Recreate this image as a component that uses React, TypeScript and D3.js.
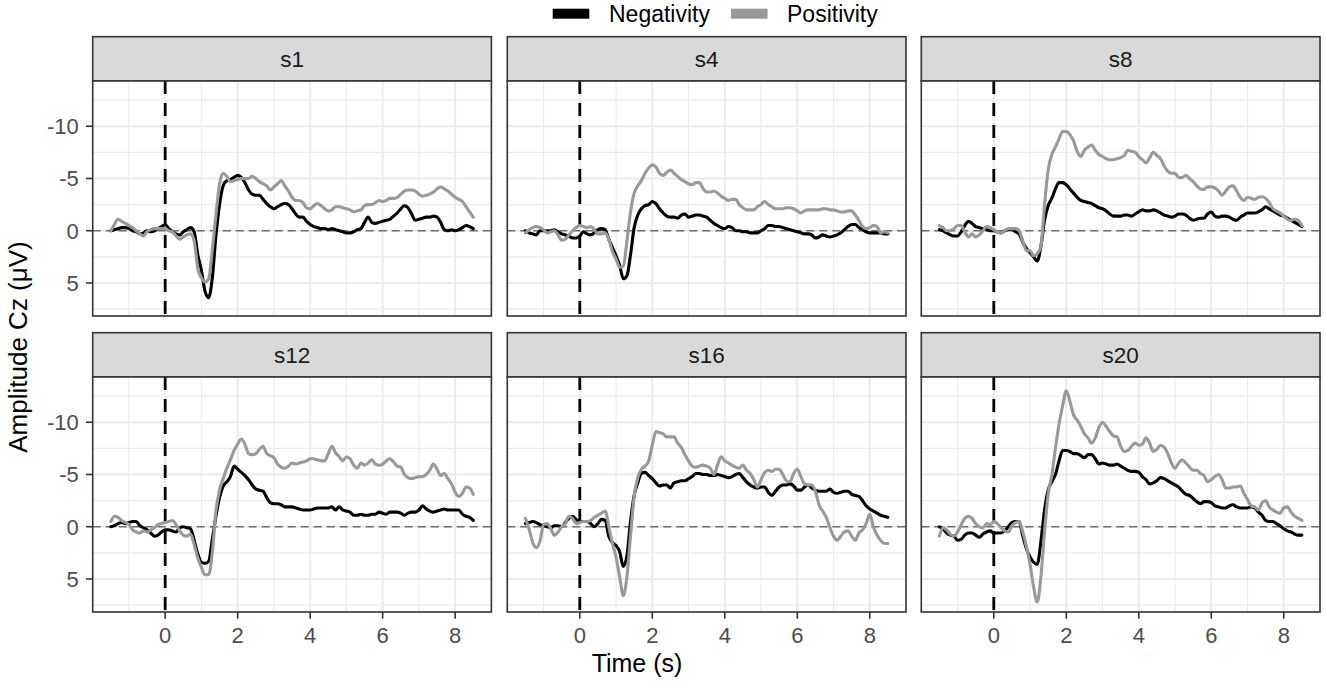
import React from "react";
import * as d3 from "d3";

// ---------- DATA ----------
const panels = ["s1", "s4", "s8", "s12", "s16", "s20"];
const seriesNames = ["Negativity", "Positivity"];
const timeStart = -1.5;
const timeStep = 0.1;
const xTicks = [0, 2, 4, 6, 8];
const xMinor = [-1, 1, 3, 5, 7];
const yTicks = [-10, -5, 0, 5];
const yMinor = [-12.5, -7.5, -2.5, 2.5, 7.5];

const s1Neg = [0.0,-0.1,-0.2,-0.3,-0.3,-0.2,0.0,0.1,0.3,0.2,0.0,0.1,0.0,-0.2,-0.4,-0.6,-0.2,0.1,0.3,0.4,0.1,-0.1,-0.3,0.1,2.3,3.8,5.8,6.4,4.5,0.5,-2.5,-4.3,-4.8,-4.9,-5.1,-5.3,-5.1,-4.6,-3.9,-3.5,-3.4,-3.4,-3.0,-2.6,-2.3,-2.1,-2.3,-2.5,-2.6,-2.5,-2.1,-1.6,-1.3,-1.3,-0.9,-0.6,-0.4,-0.3,-0.2,-0.2,-0.1,-0.2,-0.1,0.0,0.1,0.2,0.2,0.1,-0.1,-0.2,-0.8,-1.3,-0.8,-0.7,-0.8,-0.9,-1.0,-1.1,-1.4,-1.7,-2.1,-2.4,-2.2,-1.6,-1.0,-1.1,-1.2,-1.3,-1.3,-1.4,-1.3,-0.8,-0.1,0.0,-0.1,0.0,-0.1,-0.3,-0.5,-0.4,-0.2];
const s1Pos = [0.0,-0.6,-1.1,-0.9,-0.7,-0.5,-0.3,0.0,0.3,0.5,0.1,-0.1,-0.2,-0.2,-0.2,-0.2,0.0,0.1,0.5,0.8,0.6,0.4,0.3,1.0,3.6,4.5,4.9,4.6,1.8,-1.5,-4.5,-5.5,-5.2,-4.7,-4.8,-4.9,-5.0,-5.0,-5.0,-5.2,-5.0,-4.7,-4.5,-4.3,-3.9,-4.2,-4.5,-4.8,-4.3,-3.8,-3.2,-2.9,-2.9,-2.7,-2.2,-2.1,-2.4,-2.6,-2.4,-2.1,-1.9,-2.0,-2.3,-2.3,-2.2,-2.1,-2.0,-1.8,-1.9,-2.0,-2.4,-2.5,-2.5,-2.7,-2.9,-2.8,-2.9,-3.1,-3.1,-3.2,-3.5,-3.8,-3.9,-3.9,-3.8,-3.5,-3.3,-3.4,-3.5,-3.7,-4.0,-4.2,-4.0,-3.8,-3.5,-3.2,-3.0,-2.8,-2.3,-1.8,-1.3];
const s4Neg = [0.0,0.2,0.3,0.4,0.0,0.0,0.0,0.0,-0.1,0.1,0.3,0.4,0.5,0.7,0.7,0.5,0.1,0.3,0.4,0.2,-0.1,-0.2,-0.1,0.8,1.6,2.4,3.3,4.6,4.3,2.3,-0.3,-1.5,-2.1,-2.4,-2.5,-2.8,-2.6,-2.1,-1.7,-1.4,-1.3,-1.3,-1.2,-1.5,-1.6,-1.3,-1.4,-1.5,-1.5,-1.4,-1.3,-1.0,-0.7,-0.5,-0.3,-0.2,-0.4,-0.3,0.0,0.0,0.1,0.1,0.2,0.2,0.2,0.0,-0.2,-0.5,-0.5,-0.4,-0.4,-0.3,-0.2,-0.1,0.0,0.1,0.2,0.3,0.3,0.4,0.7,0.6,0.4,0.5,0.6,0.5,0.4,0.2,-0.1,-0.4,-0.6,-0.6,-0.3,-0.1,0.1,0.2,0.2,0.2,0.2,0.3,0.3];
const s4Pos = [0.2,-0.1,-0.3,-0.4,-0.3,-0.1,0.2,0.1,0.0,0.4,0.9,0.8,0.4,0.0,-0.3,-0.5,-0.4,-0.3,-0.4,-0.1,0.3,0.3,0.2,0.8,2.0,2.7,3.5,3.4,1.0,-1.8,-3.6,-4.3,-4.8,-5.5,-6.0,-6.3,-6.1,-5.5,-5.3,-5.6,-5.8,-5.5,-5.2,-4.9,-4.7,-4.5,-4.4,-4.6,-4.6,-4.05,-3.7,-3.7,-3.8,-3.6,-3.3,-3.1,-2.9,-3.0,-3.0,-2.5,-2.2,-2.0,-2.0,-2.0,-2.3,-2.5,-2.8,-2.5,-2.3,-2.1,-2.1,-2.1,-2.2,-2.2,-2.1,-1.9,-1.7,-1.9,-2.0,-2.0,-2.0,-2.0,-2.1,-2.1,-2.0,-2.0,-1.9,-1.8,-1.8,-1.9,-1.9,-1.5,-1.0,-0.4,-0.2,-0.3,-0.5,-0.4,0.2,0.1,0.2];
const s8Neg = [-0.1,0.0,0.2,0.4,0.5,0.5,0.1,-0.5,-0.9,-0.7,-0.4,-0.3,-0.2,-0.1,0.0,0.0,0.1,0.2,0.0,-0.1,-0.1,0.1,0.3,1.1,1.7,2.1,2.5,2.9,1.5,-1.0,-2.4,-3.1,-4.0,-4.6,-4.6,-4.4,-4.0,-3.6,-3.2,-2.9,-2.8,-2.7,-2.6,-2.4,-2.2,-2.1,-1.9,-1.6,-1.4,-1.4,-1.4,-1.5,-1.5,-1.4,-1.6,-1.8,-2.0,-1.9,-1.9,-2.0,-1.9,-1.7,-1.5,-1.4,-1.3,-1.4,-1.6,-1.6,-1.5,-1.2,-1.0,-1.1,-1.2,-1.2,-1.6,-1.8,-1.4,-1.3,-1.4,-1.4,-1.3,-1.1,-1.0,-1.3,-1.5,-1.7,-1.7,-1.7,-1.8,-2.0,-2.3,-2.1,-1.9,-1.7,-1.5,-1.4,-1.2,-1.0,-0.8,-0.6,-0.4];
const s8Pos = [-0.5,-0.3,0.0,0.0,-0.2,-0.5,-0.5,0.1,0.6,0.3,0.6,0.4,0.0,-0.4,-0.3,-0.1,0.1,0.2,0.0,-0.2,-0.2,-0.2,0.0,1.0,1.9,1.9,2.4,2.2,1.5,-2.5,-5.8,-7.3,-8.0,-8.8,-9.5,-9.5,-9.2,-8.6,-7.6,-7.1,-7.7,-8.0,-8.2,-7.7,-7.3,-7.1,-6.9,-6.8,-6.8,-6.9,-7.0,-7.2,-7.7,-7.6,-7.5,-7.1,-6.8,-6.5,-7.0,-7.5,-7.2,-6.9,-6.2,-5.7,-5.5,-5.5,-5.1,-5.1,-5.3,-5.0,-4.7,-4.3,-4.0,-3.95,-4.2,-4.2,-4.1,-3.8,-3.4,-3.8,-4.2,-4.3,-3.8,-3.2,-2.9,-3.2,-3.1,-3.0,-3.2,-3.25,-3.1,-2.7,-2.1,-1.9,-1.7,-1.4,-1.1,-1.0,-1.1,-1.0,-0.5];
const s12Neg = [0.0,-0.1,-0.3,-0.4,-0.3,-0.4,-0.5,-0.5,-0.1,0.1,0.3,0.6,0.9,0.8,0.5,0.3,0.3,0.4,0.5,0.1,0.0,0.1,0.2,1.3,2.6,3.4,3.5,3.3,1.2,-1.0,-2.8,-3.9,-4.3,-4.8,-5.8,-5.5,-5.2,-4.9,-4.5,-4.0,-3.6,-3.5,-3.4,-2.8,-2.3,-2.2,-2.2,-2.1,-1.9,-1.9,-1.9,-1.8,-1.7,-1.6,-1.6,-1.6,-1.7,-1.8,-1.8,-1.8,-1.8,-1.9,-1.6,-1.9,-1.6,-1.5,-1.4,-1.1,-1.1,-1.2,-1.1,-1.1,-1.2,-1.2,-1.4,-1.3,-1.2,-1.4,-1.4,-1.4,-1.3,-1.1,-1.3,-1.4,-1.4,-1.6,-2.0,-1.7,-1.5,-1.4,-1.5,-1.6,-1.7,-1.6,-1.6,-1.6,-1.6,-1.2,-1.0,-0.9,-0.6];
const s12Pos = [-0.5,-1.0,-0.9,-0.6,-0.4,-0.2,0.3,0.5,0.6,0.4,0.5,0.3,0.1,-0.2,-0.3,-0.4,-0.5,-0.6,-0.2,0.4,0.8,0.9,0.7,1.7,3.0,3.9,4.6,4.6,2.5,-1.5,-3.5,-4.6,-5.6,-6.4,-7.3,-7.9,-8.4,-7.9,-7.0,-6.9,-7.0,-7.4,-7.7,-7.0,-6.8,-6.6,-6.0,-5.7,-5.6,-5.8,-6.1,-6.0,-6.1,-6.2,-6.3,-6.5,-6.5,-6.4,-6.3,-6.3,-7.0,-7.7,-7.1,-6.7,-6.3,-6.7,-6.5,-5.9,-5.6,-6.1,-5.9,-6.1,-6.4,-6.0,-5.9,-6.0,-6.3,-6.5,-6.2,-5.8,-5.7,-5.0,-4.7,-4.6,-4.7,-4.8,-4.8,-5.0,-5.4,-6.0,-5.5,-4.9,-5.1,-4.6,-4.1,-3.3,-2.9,-3.2,-3.8,-3.7,-3.1];
const s16Neg = [-0.3,-0.4,-0.5,-0.4,-0.2,-0.1,0.0,0.1,-0.1,-0.1,0.0,-0.4,-0.8,-1.0,-0.7,-0.5,-0.5,-0.5,-0.3,0.0,-0.3,-0.7,-0.6,0.9,1.5,1.8,2.4,3.8,2.8,-0.5,-3.0,-4.2,-5.1,-5.2,-4.9,-4.6,-4.2,-3.9,-4.0,-4.0,-3.7,-4.2,-4.3,-4.4,-4.4,-4.6,-4.8,-5.1,-5.1,-5.0,-5.0,-4.9,-4.9,-5.0,-4.9,-4.8,-4.7,-4.8,-5.0,-5.1,-4.7,-4.3,-4.0,-3.8,-3.7,-3.8,-3.8,-3.3,-3.0,-3.4,-3.8,-4.0,-4.0,-4.1,-3.9,-3.5,-3.5,-3.8,-4.0,-3.7,-3.5,-3.4,-3.4,-3.4,-3.6,-3.3,-3.2,-3.3,-3.4,-3.4,-3.1,-3.0,-2.9,-2.5,-2.0,-1.7,-1.5,-1.3,-1.1,-1.0,-0.9];
const s16Pos = [-0.8,0.2,1.5,2.0,1.4,-0.2,-0.3,0.2,0.8,0.5,0.0,-0.3,-1.0,-0.8,-0.3,-0.4,-0.5,-0.5,-0.6,-0.9,-1.1,-1.3,-1.5,0.0,1.6,2.9,4.8,6.6,4.8,0.9,-2.9,-4.7,-5.5,-5.8,-6.3,-7.8,-9.1,-9.0,-8.9,-8.6,-8.6,-8.6,-8.0,-7.6,-6.9,-6.3,-5.8,-5.7,-5.8,-5.9,-5.8,-5.6,-5.0,-5.9,-6.7,-6.3,-6.1,-5.9,-5.7,-5.6,-5.9,-5.4,-5.1,-4.5,-3.8,-4.5,-5.2,-5.4,-5.3,-5.5,-5.5,-5.0,-4.4,-4.3,-5.1,-5.5,-4.8,-4.1,-4.0,-4.0,-3.4,-2.1,-1.5,-0.9,0.1,0.9,1.3,0.9,0.5,0.4,0.9,1.3,0.6,0.3,-0.3,-1.2,0.0,0.8,1.3,1.6,1.6];
const s20Neg = [0.0,0.2,0.6,0.8,0.9,1.3,1.2,0.8,0.6,0.6,0.8,1.0,0.7,0.5,0.4,0.6,0.6,0.6,0.4,0.0,-0.4,-0.5,-0.5,0.9,2.1,2.9,3.4,3.6,1.4,-1.6,-3.5,-4.3,-5.0,-6.3,-7.3,-7.3,-7.2,-7.0,-7.0,-6.8,-6.6,-6.9,-6.9,-6.5,-6.0,-6.1,-6.0,-5.9,-5.9,-6.0,-5.8,-5.6,-5.4,-5.3,-5.3,-5.2,-4.8,-4.5,-4.1,-4.2,-4.4,-4.7,-4.6,-4.4,-4.2,-4.0,-3.8,-3.4,-3.1,-3.0,-2.7,-2.4,-2.2,-2.4,-2.4,-2.3,-2.0,-1.9,-1.8,-1.8,-2.0,-2.1,-1.9,-1.8,-1.8,-1.8,-1.9,-1.8,-1.4,-1.1,-0.6,-0.5,-0.5,-0.3,-0.1,0.2,0.4,0.5,0.7,0.8,0.8];
const s20Pos = [0.9,0.1,0.3,0.7,0.9,0.5,-0.2,-0.8,-1.0,-0.8,-0.3,0.0,0.1,-0.3,-0.2,-0.5,-0.3,0.1,0.4,0.5,-0.1,-0.4,-0.5,0.5,1.9,3.6,5.8,7.2,4.8,0.5,-3.1,-4.9,-7.5,-9.8,-11.6,-13.0,-12.0,-10.7,-10.2,-9.6,-8.9,-8.5,-8.0,-8.5,-9.5,-10.0,-9.6,-9.1,-8.7,-8.6,-7.7,-7.2,-7.3,-7.7,-8.0,-7.8,-7.9,-8.5,-8.0,-7.2,-7.4,-7.8,-7.6,-7.0,-6.1,-5.6,-6.1,-6.4,-6.1,-5.7,-5.4,-5.4,-5.1,-4.9,-4.3,-4.5,-4.8,-5.0,-4.5,-3.7,-3.7,-3.8,-3.8,-3.9,-3.2,-2.6,-2.0,-1.9,-1.6,-2.3,-2.5,-1.9,-1.6,-1.4,-1.3,-1.8,-1.9,-1.4,-1.0,-0.8,-0.6];

const panelNeg = [s1Neg, s4Neg, s8Neg, s12Neg, s16Neg, s20Neg];
const panelPos = [s1Pos, s4Pos, s8Pos, s12Pos, s16Pos, s20Pos];

// ---------- LAYOUT / STYLE ----------
const W = 1325;
const H = 687;
const colX = [92.7, 507.3, 921.3];
const panelW = 398.7;
const rowStripTop = [36.7, 332.7];
const stripH = 44.3;
const panelH = 235;
const FONT = "'Liberation Sans', Arial, Helvetica, sans-serif";
const colors = ["#000000", "#999999"];

const x = d3.scaleLinear().domain([-2, 9]).range([0, panelW]);
const y = d3.scaleLinear().domain([-14.33, 8.16]).range([0, panelH]);

const times = panelNeg[0].map((_, i) => timeStart + i * timeStep);

const lineGen = d3
  .line<number>()
  .x((_, i) => x(times[i]))
  .y((v) => y(v))
  .curve(d3.curveMonotoneX);

function Panel({ idx }: { idx: number }) {
  const col = idx % 3;
  const row = Math.floor(idx / 3);
  const left = colX[col];
  const stripTop = rowStripTop[row];
  const top = stripTop + stripH;
  return (
    <g>
      <rect x={left} y={stripTop} width={panelW} height={stripH} fill="#D9D9D9" stroke="#333333" strokeWidth={1.6} />
      <text x={left + panelW / 2} y={stripTop + stripH / 2 + 8} textAnchor="middle" fontSize={22.5} fill="#1A1A1A" fontFamily={FONT}>
        {panels[idx]}
      </text>
      <g transform={`translate(${left},${top})`}>
        <rect x={0} y={0} width={panelW} height={panelH} fill="#FFFFFF" />
        {yMinor.map((v) => (
          <line key={"ym" + v} x1={0} x2={panelW} y1={y(v)} y2={y(v)} stroke="#EBEBEB" strokeWidth={1.2} />
        ))}
        {xMinor.map((v) => (
          <line key={"xm" + v} x1={x(v)} x2={x(v)} y1={0} y2={panelH} stroke="#EBEBEB" strokeWidth={1.2} />
        ))}
        {yTicks.map((v) => (
          <line key={"yM" + v} x1={0} x2={panelW} y1={y(v)} y2={y(v)} stroke="#EBEBEB" strokeWidth={2.1} />
        ))}
        {xTicks.map((v) => (
          <line key={"xM" + v} x1={x(v)} x2={x(v)} y1={0} y2={panelH} stroke="#EBEBEB" strokeWidth={2.1} />
        ))}
        <line x1={0} x2={panelW} y1={y(0)} y2={y(0)} stroke="#6E6E6E" strokeWidth={1.3} strokeDasharray="8,5" />
        <line x1={x(0)} x2={x(0)} y1={0} y2={panelH} stroke="#000000" strokeWidth={2.8} strokeDasharray="13,9" />
        <path d={lineGen(panelNeg[idx]) || ""} fill="none" stroke={colors[0]} strokeWidth={3.1} strokeLinejoin="round" strokeLinecap="round" />
        <path d={lineGen(panelPos[idx]) || ""} fill="none" stroke={colors[1]} strokeWidth={3.1} strokeLinejoin="round" strokeLinecap="round" />
        <rect x={0} y={0} width={panelW} height={panelH} fill="none" stroke="#333333" strokeWidth={1.6} />
        {col === 0 &&
          yTicks.map((v) => (
            <g key={"yt" + v}>
              <line x1={-6.7} x2={0} y1={y(v)} y2={y(v)} stroke="#333333" strokeWidth={1.6} />
              <text x={-14} y={y(v) + 7.8} textAnchor="end" fontSize={22} fill="#4D4D4D" fontFamily={FONT}>
                {v}
              </text>
            </g>
          ))}
        {row === 1 &&
          xTicks.map((v) => (
            <g key={"xt" + v}>
              <line x1={x(v)} x2={x(v)} y1={panelH} y2={panelH + 6.7} stroke="#333333" strokeWidth={1.6} />
              <text x={x(v)} y={panelH + 31} textAnchor="middle" fontSize={22} fill="#4D4D4D" fontFamily={FONT}>
                {v}
              </text>
            </g>
          ))}
      </g>
    </g>
  );
}

export default function App() {
  const legendItems = [
    { key: 552.7, text: 609 },
    { key: 731, text: 787 },
  ];
  return (
    <svg width={W} height={H} style={{ position: "absolute", left: 0, top: 0, background: "#FFFFFF" }}>
      <rect x={0} y={0} width={W} height={H} fill="#FFFFFF" />
      {seriesNames.map((name, i) => (
        <g key={name}>
          <rect x={legendItems[i].key} y={8.7} width={36.6} height={10} fill={colors[i]} />
          <text x={legendItems[i].text} y={21.8} fontSize={23} fill="#000000" fontFamily={FONT}>
            {name}
          </text>
        </g>
      ))}
      {panels.map((_, i) => (
        <Panel key={i} idx={i} />
      ))}
      <text x={637} y={672} textAnchor="middle" fontSize={25} fill="#000000" fontFamily={FONT}>
        Time (s)
      </text>
      <text transform={`translate(27,347) rotate(-90)`} textAnchor="middle" fontSize={26} fill="#000000" fontFamily={FONT}>
        Amplitude Cz (μV)
      </text>
    </svg>
  );
}
